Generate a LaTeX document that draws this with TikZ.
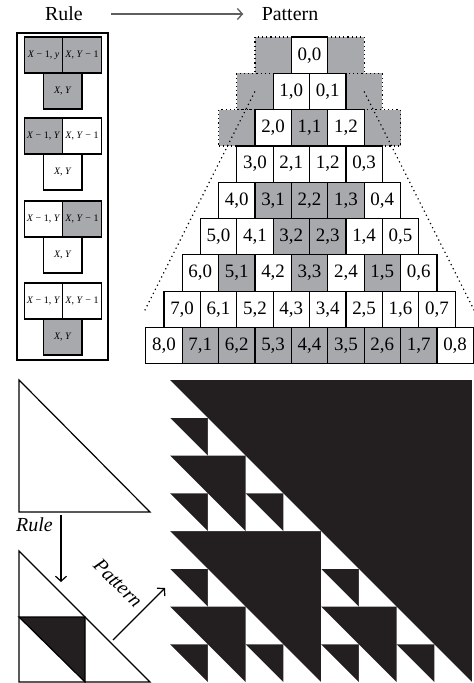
\documentclass[tikz,border=0pt]{standalone}
\usepackage{fontspec}
\setmainfont{Liberation Serif}
\usetikzlibrary{positioning,arrows.meta}
\definecolor{cellgray}{RGB}{168,169,173}
\definecolor{linegray}{RGB}{95,95,95}
\definecolor{ink}{RGB}{35,31,32}
\tikzset{
  pcell/.style={draw, line width=1.2bp, minimum width=36.4bp, minimum height=36.3bp,
    inner sep=0pt, outer sep=0pt, font=\fontsize{19}{19}\selectfont},
  wc/.style={fill=white},
  gc/.style={fill=cellgray},
  dcell/.style={pcell, gc, dash pattern=on 1.2bp off 3bp},
  rcell/.style={draw, line width=1.4bp, minimum width=38.5bp, minimum height=36bp,
    inner sep=0pt, outer sep=0pt, font=\fontsize{10}{10}\selectfont},
  dotline/.style={line width=1.2bp, dash pattern=on 1.2bp off 3.4bp},
  tri/.style={line width=1.2bp, line join=miter},
}
\begin{document}
\begin{tikzpicture}[x=1bp, y=-1bp, >={Straight Barb[length=5bp,width=11bp]},
    font=\fontsize{20}{20}\selectfont]
    \useasboundingbox (0,0) rectangle (474,683);

    \node (rule) at (64,14) {Rule};
    \node (pattern) at (290,14) {Pattern};
    \draw[->, linegray, line width=1.3bp, shorten <=25bp, shorten >=15bp] (rule.east) -- (pattern.west);

    \draw[line width=1.4bp] (17,33) rectangle (108,360);
    \node (ra1) [rcell, gc] at (43.5,55) {\textit{X} − 1, \textit{y}};
    \node (rb1) [rcell, gc, right=0pt of ra1] {\textit{X}, \textit{Y} − 1};
    \node (rc1) [rcell, gc, below=0pt of ra1.south east] {\textit{X}, \textit{Y}};
    \node (ra2) [rcell, gc] at (43.5,136) {\textit{X} − 1, \textit{Y}};
    \node (rb2) [rcell, wc, right=0pt of ra2] {\textit{X}, \textit{Y} − 1};
    \node (rc2) [rcell, wc, below=0pt of ra2.south east] {\textit{X}, \textit{Y}};
    \node (ra3) [rcell, wc] at (43.5,219) {\textit{X} − 1, \textit{Y}};
    \node (rb3) [rcell, gc, right=0pt of ra3] {\textit{X}, \textit{Y} − 1};
    \node (rc3) [rcell, wc, below=0pt of ra3.south east] {\textit{X}, \textit{Y}};
    \node (ra4) [rcell, wc] at (43.5,301) {\textit{X} − 1, \textit{Y}};
    \node (rb4) [rcell, wc, right=0pt of ra4] {\textit{X}, \textit{Y} − 1};
    \node (rc4) [rcell, gc, below=0pt of ra4.south east] {\textit{X}, \textit{Y}};

    \foreach \row in {0,1,2} {
      \node (d\row l) [dcell] at ({309.5-(\row/2+1)*36.4},{55.2+\row*36.3}) {};
      \node (d\row r) [dcell] at ({309.5+(\row/2+1)*36.4},{55.2+\row*36.3}) {};
    }
    \node (p00) [pcell, wc] at (309.5,55.2) {0,0};
    \node (p10) [pcell, wc] at (291.3,91.5) {1,0};
    \node (p11) [pcell, wc, right=0pt of p10] {0,1};
    \node (p20) [pcell, wc] at (273.1,127.8) {2,0};
    \node (p21) [pcell, gc, right=0pt of p20] {1,1};
    \node (p22) [pcell, wc, right=0pt of p21] {1,2};
    \foreach \row/\fills in {3/{wc,wc,wc,wc}, 4/{wc,gc,gc,gc,wc}, 5/{wc,wc,gc,gc,wc,wc},
        6/{wc,gc,wc,gc,wc,gc,wc}, 7/{wc,wc,wc,wc,wc,wc,wc,wc}, 8/{wc,gc,gc,gc,gc,gc,gc,gc,wc}}
      \foreach \f [count=\col from 0] in \fills {
        \pgfmathtruncatemacro\m{\row-\col}
        \node (p\row\col) [pcell, \f] at ({309.5+(\col-\row/2)*36.4},{55.2+\row*36.3}) {\m,\col};
      }
    \coordinate (ll) at (143.5,313);
    \coordinate (lr) at (475.5,313);
    \draw[dotline] (d1l.center) -- (ll);
    \draw[dotline] (d1r.center) -- (lr);

    \draw[tri, fill=white] (19,380) -- (19,512) -- (150,512) -- cycle;
    \draw[tri] (19,551) -- (19,682) -- (150,682) -- cycle;
    \filldraw[tri, fill=ink] (19,617) -- (85,617) -- (85,682) -- cycle;
    \coordinate (rs) at (61,515);
    \coordinate (re) at (61,582);
    \draw[->, line width=1.2bp] (rs) -- (re);
    \node (rlab) at (34.5,525) {\textit{Rule}};
    \coordinate (ps) at (113,640);
    \coordinate (pe) at (165,588);
    \draw[->, line width=1.2bp] (ps) -- (pe);
    \node (plab) [rotate=-45] at (118,583) {\textit{Pattern}};

    \fill[ink] (170,380) rectangle (472,682);
    \foreach \row/\odds in {0/{0}, 1/{0,1}, 2/{0,2}, 3/{0,1,2,3}, 4/{0,4}, 5/{0,1,4,5},
        6/{0,2,4,6}, 7/{0,...,7}}
      \foreach \col in \odds
        \fill[white] ({170+\col*37.75},{380+\row*37.75}) -- ++(0,37.75) -- ++(37.75,0) -- cycle;
\end{tikzpicture}
\end{document}
